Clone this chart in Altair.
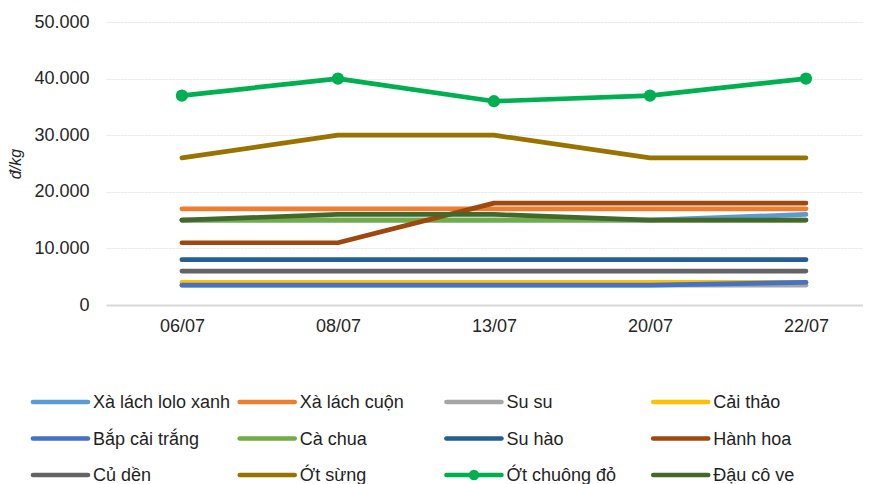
import altair as alt
import pandas as pd

dates = ["06/07", "08/07", "13/07", "20/07", "22/07"]
series = ["Xà lách lolo xanh", "Xà lách cuộn", "Su su", "Cải thảo",
          "Bắp cải trắng", "Cà chua", "Su hào", "Hành hoa",
          "Củ dền", "Ớt sừng", "Ớt chuông đỏ", "Đậu cô ve"]
colors = ["#5B9BD5", "#ED7D31", "#A5A5A5", "#FFC000",
          "#4472C4", "#70AD47", "#255E91", "#9E480E",
          "#636363", "#997300", "#00B050", "#43682B"]

xa_lach_lolo = [15000, 15000, 15000, 15000, 16000]
xa_lach_cuon = [17000, 17000, 17000, 17000, 17000]
su_su = [3500, 3500, 3500, 3500, 3500]
cai_thao = [4000, 4000, 4000, 4000, 4000]
bap_cai_trang = [3500, 3500, 3500, 3500, 4000]
ca_chua = [15000, 15000, 15000, 15000, 15000]
su_hao = [8000, 8000, 8000, 8000, 8000]
hanh_hoa = [11000, 11000, 18000, 18000, 18000]
cu_den = [6000, 6000, 6000, 6000, 6000]
ot_sung = [26000, 30000, 30000, 26000, 26000]
ot_chuong_do = [37000, 40000, 36000, 37000, 40000]
dau_co_ve = [15000, 16000, 16000, 15000, 15000]

values = [xa_lach_lolo, xa_lach_cuon, su_su, cai_thao, bap_cai_trang, ca_chua,
          su_hao, hanh_hoa, cu_den, ot_sung, ot_chuong_do, dau_co_ve]

marked_series = "Ớt chuông đỏ"

rows = []
for i, (name, vals) in enumerate(zip(series, values)):
    for d, v in zip(dates, vals):
        rows.append({"series": name, "date": d, "price": v, "idx": i})
df = pd.DataFrame(rows)

# legend table: 4 columns x 3 rows, row-major in series order
leg = pd.DataFrame({
    "series": series,
    "col": [i % 4 for i in range(len(series))],
    "row": [i // 4 for i in range(len(series))],
})

FONT = "Liberation Sans"
SYM = 55 / 207.0  # legend symbol length as a fraction of the column step

color_scale = alt.Scale(domain=series, range=colors)

x_enc = alt.X("date:O", sort=dates,
              scale=alt.Scale(type="point", padding=0.426, align=0.571),
              axis=alt.Axis(title=None, labelAngle=0, labelFont=FONT, labelFontSize=18,
                            labelColor="#262626", labelPadding=12, ticks=False,
                            domainColor="#D9D9D9", domainWidth=2))
y_enc = alt.Y("price:Q", scale=alt.Scale(domain=[0, 50000]),
              axis=alt.Axis(values=[0, 10000, 20000, 30000, 40000, 50000],
                            labelExpr="replace(format(datum.value, ','), ',', '.')",
                            labelFont=FONT, labelFontSize=18, labelColor="#262626",
                            labelPadding=17, ticks=False, domain=False,
                            gridColor="#E4E4E4", gridWidth=1, gridDash=[2, 1],
                            title="đ/kg", titleFont=FONT, titleFontSize=16,
                            titleFontStyle="italic", titleFontWeight="normal",
                            titleColor="#262626", titlePadding=10))

lines = alt.Chart(df).mark_line(strokeWidth=4.7, strokeCap="round", strokeJoin="round").encode(
    x=x_enc, y=y_enc,
    color=alt.Color("series:N", scale=color_scale, sort=series, legend=None),
    detail="idx:O",
)

points = alt.Chart(df[df["series"] == marked_series]).mark_point(
    filled=True, size=150, opacity=1).encode(
    x=x_enc, y=y_enc,
    color=alt.Color("series:N", scale=color_scale, legend=None),
)

main = alt.layer(lines, points)

# custom legend (own scales, laid out below the plot)
lx = alt.Scale(domain=[0, 4], range=[-73, 754])
ly = alt.Scale(domain=[0, 2], range=[380, 453])

leg_base = alt.Chart(leg).transform_calculate(
    col_end=f"datum.col + {SYM}", col_mid=f"datum.col + {SYM / 2}")

leg_rules = leg_base.mark_rule(strokeWidth=4.7, strokeCap="round").encode(
    x=alt.X("col:Q", scale=lx, axis=None),
    x2="col_end:Q",
    y=alt.Y("row:Q", scale=ly, axis=None),
    color=alt.Color("series:N", scale=color_scale, legend=None),
)
leg_marker = leg_base.transform_filter(
    alt.datum.series == marked_series).mark_point(filled=True, size=110, opacity=1).encode(
    x=alt.X("col_mid:Q", scale=lx, axis=None),
    y=alt.Y("row:Q", scale=ly, axis=None),
    color=alt.Color("series:N", scale=color_scale, legend=None),
)
leg_text = leg_base.mark_text(align="left", baseline="middle", dx=60, dy=1,
                              font=FONT, fontSize=18, color="#1F1F1F").encode(
    x=alt.X("col:Q", scale=lx, axis=None),
    y=alt.Y("row:Q", scale=ly, axis=None),
    text="series:N",
)
legend_layer = alt.layer(leg_rules, leg_marker, leg_text)

chart = alt.layer(main, legend_layer).resolve_scale(
    x="independent", y="independent"
).properties(
    width=757, height=283,
    background="white",
    autosize=alt.AutoSizeParams(type="none"),
    padding={"left": 98, "top": 14, "right": 0, "bottom": 190},
).configure_view(stroke="transparent", strokeWidth=0)

chart.save("out.html", embed_options={"renderer": "svg", "actions": False})
